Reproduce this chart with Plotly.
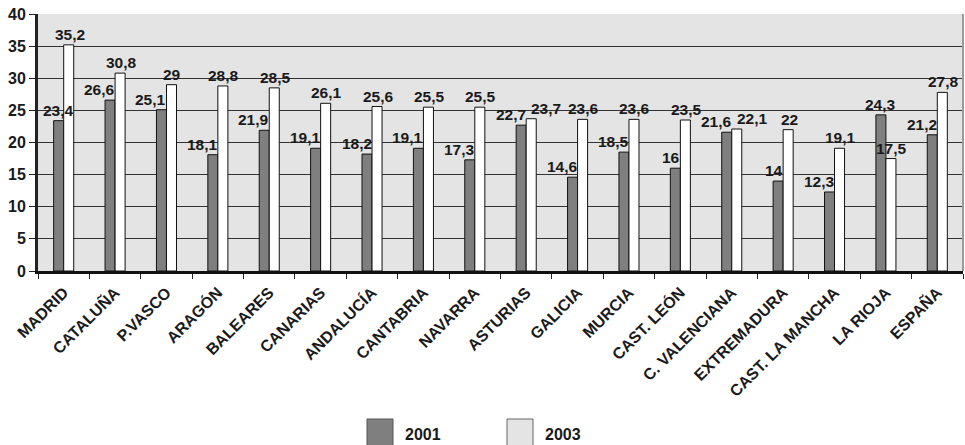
import plotly.graph_objects as go

regions = ["MADRID", "CATALUÑA", "P.VASCO", "ARAGÓN", "BALEARES", "CANARIAS",
           "ANDALUCÍA", "CANTABRIA", "NAVARRA", "ASTURIAS", "GALICIA", "MURCIA",
           "CAST. LEÓN", "C. VALENCIANA", "EXTREMADURA", "CAST. LA MANCHA",
           "LA RIOJA", "ESPAÑA"]
values_2001 = [23.4, 26.6, 25.1, 18.1, 21.9, 19.1, 18.2, 19.1, 17.3, 22.7, 14.6,
               18.5, 16, 21.6, 14, 12.3, 24.3, 21.2]
values_2003 = [35.2, 30.8, 29, 28.8, 28.5, 26.1, 25.6, 25.5, 25.5, 23.7, 23.6,
               23.6, 23.5, 22.1, 22, 19.1, 17.5, 27.8]
series_names = ["2001", "2003"]

FONT = dict(family="Liberation Sans", size=15.5, color="#1a1a1a", weight="bold")
TICKFONT = dict(FONT, size=16)
W, H = 965, 445
ML, MR, MT, MB = 38, 2, 14, 174
PW, PH = W - ML - MR, H - MT - MB


def fmt(v):
    return f"{v:g}".replace(".", ",")


fig = go.Figure()
fig.add_trace(go.Bar(x=regions, y=values_2001, name=series_names[0],
                     marker=dict(color="#7f7f7f", line=dict(color="#111", width=1)),
                     showlegend=False))
fig.add_trace(go.Bar(x=regions, y=values_2003, name=series_names[1],
                     marker=dict(color="#ffffff", line=dict(color="#111", width=1)),
                     showlegend=False))

annotations = []
for i, (r, a, b) in enumerate(zip(regions, values_2001, values_2003)):
    close = abs(a - b) < 2
    if i == 0 or (a >= b and not close):
        a_anchor, a_shift = "center", -5
    else:
        a_anchor, a_shift = "right", 1
    if close:
        b_anchor, b_shift = "left", 4
    else:
        b_anchor, b_shift = "center", 6
    annotations.append(dict(x=r, y=a, text=fmt(a), showarrow=False,
                            xanchor=a_anchor, xshift=a_shift,
                            yanchor="bottom", yshift=1, font=FONT,
                            borderpad=0))
    annotations.append(dict(x=r, y=b, text=fmt(b), showarrow=False,
                            xanchor=b_anchor, xshift=b_shift,
                            yanchor="bottom", yshift=1, font=FONT,
                            borderpad=0))


def px_x(p):
    return (p - ML) / PW


def px_y(p):
    return (H - MB - p) / PH


shapes = []
legend_items = [(series_names[0], "#7f7f7f", "#555", 367),
                (series_names[1], "#e4e4e4", "#666", 507)]
for name, fill, line, x0 in legend_items:
    shapes.append(dict(type="rect", xref="paper", yref="paper",
                       x0=px_x(x0), x1=px_x(x0 + 26), y0=px_y(419), y1=px_y(447),
                       fillcolor=fill, line=dict(color=line, width=1)))
    annotations.append(dict(xref="paper", yref="paper", x=px_x(x0 + 36), y=px_y(434),
                            text=name, showarrow=False, xanchor="left",
                            yanchor="middle", font=dict(FONT, size=16)))

shapes.append(dict(type="line", xref="paper", yref="paper", x0=1, x1=1, y0=0, y1=1,
                   line=dict(color="#9a9a9a", width=2)))

fig.update_layout(
    width=W, height=H,
    margin=dict(l=ML, r=MR, t=MT, b=MB, pad=0),
    paper_bgcolor="white", plot_bgcolor="#e4e4e4",
    barmode="group", bargap=0.61, bargroupgap=0,
    font=FONT,
    annotations=annotations, shapes=shapes,
    showlegend=False,
)
fig.update_xaxes(type="category", tickangle=-45, tickson="boundaries",
                 ticks="outside", ticklen=5, tickcolor="#222", tickwidth=1,
                 showline=True, linewidth=3, linecolor="#111",
                 showgrid=False, tickfont=TICKFONT, ticklabelstandoff=3)
fig.update_yaxes(range=[0, 40], dtick=5, ticks="outside", ticklen=6,
                 tickcolor="#222", tickwidth=1, showline=True, linewidth=3,
                 linecolor="#222", showgrid=True, gridcolor="#333", gridwidth=1,
                 zeroline=False, tickfont=TICKFONT)

fig.write_html("out.html")
